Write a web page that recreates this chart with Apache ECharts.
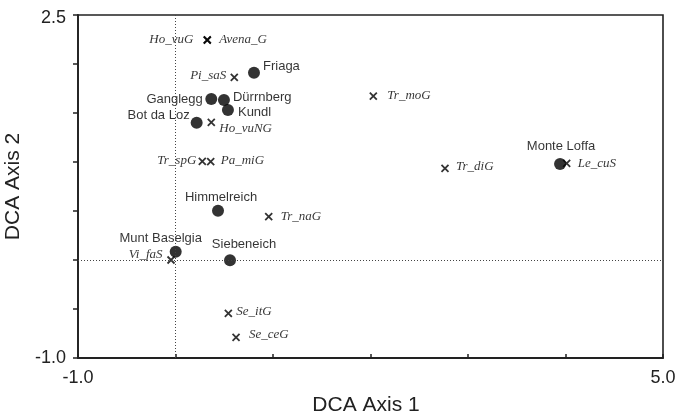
<!DOCTYPE html>
<html>
<head>
<meta charset="utf-8">
<script src="https://cdn.jsdelivr.net/npm/echarts@6/dist/echarts.min.js"></script>
<style>
html,body{margin:0;padding:0;background:#fff;}
#chart{width:678px;height:416px;}
</style>
</head>
<body>
<div id="chart"></div>
<script>
// Sites (filled circles)
const siteNames = ['Friaga','Ganglegg','Dürrnberg','Kundl','Bot da Loz','Himmelreich','Munt Baselgia','Siebeneich','Monte Loffa'];
const siteX = [0.805, 0.367, 0.497, 0.538, 0.217, 0.436, 0.002, 0.559, 3.944];
const siteY = [1.911, 1.643, 1.633, 1.531, 1.401, 0.503, 0.085, -0.003, 0.980];

// Species (crosses)
const speciesNames = ['Ho_vuG','Avena_G','Pi_saS','Ho_vuNG','Tr_spG','Pa_miG','Tr_moG','Tr_diG','Le_cuS','Tr_naG','Vi_faS','Se_itG','Se_ceG'];
const speciesX = [0.326, 0.326, 0.603, 0.367, 0.275, 0.361, 2.029, 2.764, 4.012, 0.956, -0.046, 0.542, 0.621];
const speciesY = [2.245, 2.245, 1.864, 1.405, 1.007, 1.003, 1.673, 0.936, 0.987, 0.442, 0.000, -0.544, -0.789];

// Axis ticks
const xMin = -1.0, xMax = 5.0, xStep = 1.0;
const yMin = -1.0, yMax = 2.5, yStep = 0.5;
const xTitle = 'DCA Axis 1';
const yTitle = 'DCA Axis 2';

// Label placement (layout only)
const siteLabelPos = {
  'Friaga': ['right', [-2, -6]],
  'Ganglegg': ['left', [2.5, 0]],
  'Dürrnberg': ['right', [-2, -3]],
  'Kundl': ['right', [-1, 2]],
  'Bot da Loz': ['left', [4, -7]],
  'Himmelreich': ['top', [3, 4]],
  'Munt Baselgia': ['top', [-15, 4]],
  'Siebeneich': ['top', [14, 2]],
  'Monte Loffa': ['top', [1, 0]]
};
const speciesLabelPos = {
  'Ho_vuG': ['left', [-3, 0]],
  'Avena_G': ['right', [1, 0]],
  'Pi_saS': ['left', [3, -2]],
  'Ho_vuNG': ['right', [-3, 6]],
  'Tr_spG': ['left', [5, -1]],
  'Pa_miG': ['right', [-1, -1]],
  'Tr_moG': ['right', [3, 0]],
  'Tr_diG': ['right', [0, -2]],
  'Le_cuS': ['right', [0, 0]],
  'Tr_naG': ['right', [1, 0]],
  'Vi_faS': ['left', [2.5, -5]],
  'Se_itG': ['right', [-3, -2]],
  'Se_ceG': ['right', [2, -3]]
};

const siteData = siteNames.map((n, i) => ({
  name: n, value: [siteX[i], siteY[i]],
  label: { position: siteLabelPos[n][0], offset: siteLabelPos[n][1] }
}));
const speciesData = speciesNames.map((n, i) => ({
  name: n, value: [speciesX[i], speciesY[i]],
  label: { position: speciesLabelPos[n][0], offset: speciesLabelPos[n][1] }
}));

const isEdge = (v, lo, hi) => Math.abs(v - lo) < 1e-9 || Math.abs(v - hi) < 1e-9;

const chart = echarts.init(document.getElementById('chart'), null, { renderer: 'canvas' });
chart.setOption({
  animation: false,
  backgroundColor: '#fff',
  grid: { left: 78, top: 15, right: 15, bottom: 58, containLabel: false, outerBoundsMode: 'none',
          show: true, borderColor: '#222', borderWidth: 1.6, backgroundColor: 'transparent' },
  xAxis: {
    type: 'value', min: xMin, max: xMax, interval: xStep,
    name: xTitle, nameLocation: 'middle', nameGap: 37,
    nameTextStyle: { fontFamily: 'Liberation Sans', fontSize: 21, color: '#222', padding: [0, 9, 0, 0] },
    axisLine: { show: true, onZero: false, lineStyle: { color: '#222', width: 1.8 } },
    axisTick: { show: true, inside: true, length: 4, lineStyle: { color: '#222', width: 1.5 } },
    axisLabel: { formatter: v => isEdge(v, xMin, xMax) ? v.toFixed(1) : '', margin: 11, fontFamily: 'Liberation Sans', fontSize: 18, color: '#222' },
    splitLine: { show: false }
  },
  yAxis: {
    type: 'value', min: yMin, max: yMax, interval: yStep,
    name: yTitle, nameLocation: 'middle', nameGap: 44,
    nameTextStyle: { fontFamily: 'Liberation Sans', fontSize: 21, color: '#222' },
    axisLine: { show: true, onZero: false, lineStyle: { color: '#222', width: 1.8 } },
    axisTick: { show: true, inside: false, length: 5, lineStyle: { color: '#222', width: 1.5 } },
    axisLabel: {
      formatter: v => Math.abs(v - yMax) < 1e-9 ? '{top|' + v.toFixed(1) + '}' : (isEdge(v, yMin, yMax) ? v.toFixed(1) : ''),
      rich: { top: { padding: [6, 0, 0, 0], fontFamily: 'Liberation Sans', fontSize: 18, color: '#222' } },
      margin: 12, fontFamily: 'Liberation Sans', fontSize: 18, color: '#222'
    },
    splitLine: { show: false }
  },
  series: [
    {
      type: 'scatter', name: 'sites', data: siteData, symbol: 'circle', symbolSize: 12,
      itemStyle: { color: '#000' },
      label: { show: true, formatter: '{b}', fontFamily: 'Liberation Sans', fontSize: 13, color: '#000' },
      markLine: {
        silent: true, symbol: 'none', animation: false,
        label: { show: false },
        lineStyle: { type: [1, 2], color: '#444', width: 1 },
        data: [{ xAxis: 0 }, { yAxis: 0 }]
      },
      z: 3
    },
    {
      type: 'scatter', name: 'species', data: speciesData,
      symbol: 'path://M0,0L10,10M10,0L0,10', symbolSize: 7,
      itemStyle: { color: 'none', borderColor: '#000', borderWidth: 1.8 },
      label: { show: true, formatter: '{b}', fontFamily: 'Liberation Serif', fontStyle: 'italic', fontSize: 13, color: '#000' },
      z: 4
    }
  ]
});
</script>
</body>
</html>
